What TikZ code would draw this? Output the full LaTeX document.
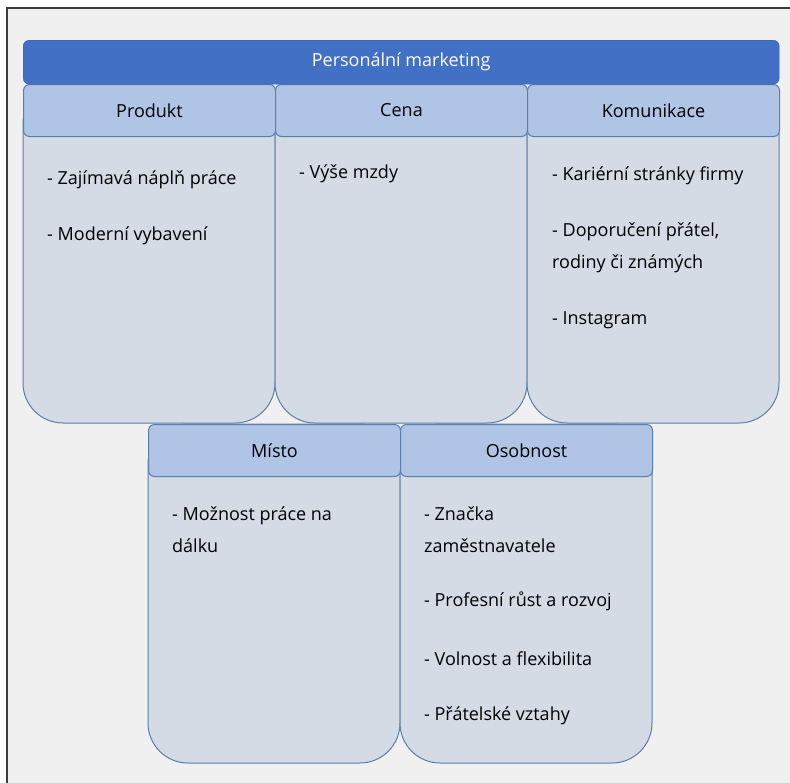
\documentclass[tikz,border=0pt]{standalone}
\usepackage{fontspec}
\setmainfont{Open Sans}
\definecolor{titleblue}{HTML}{4170C4}
\definecolor{titleline}{HTML}{3560AA}
\definecolor{headblue}{HTML}{B0C4E6}
\definecolor{bodygray}{HTML}{D5DBE4}
\definecolor{boxline}{HTML}{5A7FAA}
\definecolor{paper}{HTML}{F0F0F0}
\definecolor{frame}{HTML}{3C3C3C}
\begin{document}
\begin{tikzpicture}[x=1pt,y=-1pt,
    every node/.style={font=\fontsize{18}{32}\selectfont},
    title/.style={draw=titleline, fill=titleblue, rounded corners=6, minimum width=756, minimum height=44, anchor=north west, inner sep=0, text=white},
    head/.style={draw=boxline, fill=headblue, line width=1, rounded corners=6, minimum width=252, minimum height=52, anchor=north west, inner sep=0},
    body/.style={draw=boxline, fill=bodygray, line width=1, rounded corners=40},
    item/.style={anchor=west, align=left, inner sep=0}]
    \useasboundingbox (0,0) rectangle (790,782);
    \clip (0,0) rectangle (790,782);
    \fill[white] (0,0) rectangle (790,782);
    \draw[fill=paper, draw=frame, line width=1.5] (7,8) rectangle (820,820);

    % Bodies
    \draw[body] (23,84) rectangle (275,423);
    \draw[body] (275,84) rectangle (527,423);
    \draw[body] (527,84) rectangle (779,423);
    \draw[body] (148,424) rectangle (400,763);
    \draw[body] (400,424) rectangle (652,763);

    % Headers
    \node[head] (produkt) at (23,84) {Produkt};
    \node[head] (cena) at (275,84) {Cena};
    \node[head] (komunikace) at (527,84) {Komunikace};
    \node[head] (misto) at (148,424) {Místo};
    \node[head] (osobnost) at (400,424) {Osobnost};
    \node[title] (marketing) at (23,40) {Personální marketing};

    % Items
    \node[item] (produkt-1) at (47,179.5) {- Zajímavá náplň práce};
    \node[item] (produkt-2) at (47,235.5) {- Moderní vybavení};
    \node[item] (cena-1) at (299,173.5) {- Výše mzdy};
    \node[item] (komunikace-1) at (552,175.5) {- Kariérní stránky firmy};
    \node[item] (komunikace-2) at (552,247.5) {- Doporučení přátel,\\rodiny či známých};
    \node[item] (komunikace-3) at (552,320.5) {- Instagram};
    \node[item] (misto-1) at (172,529.5) {- Možnost práce na\\dálku};
    \node[item] (osobnost-1) at (424,529.5) {- Značka\\zaměstnavatele};
    \node[item] (osobnost-2) at (424,601.5) {- Profesní růst a rozvoj};
    \node[item] (osobnost-3) at (424,658.5) {- Volnost a flexibilita};
    \node[item] (osobnost-4) at (424,715.5) {- Přátelské vztahy};
\end{tikzpicture}
\end{document}
